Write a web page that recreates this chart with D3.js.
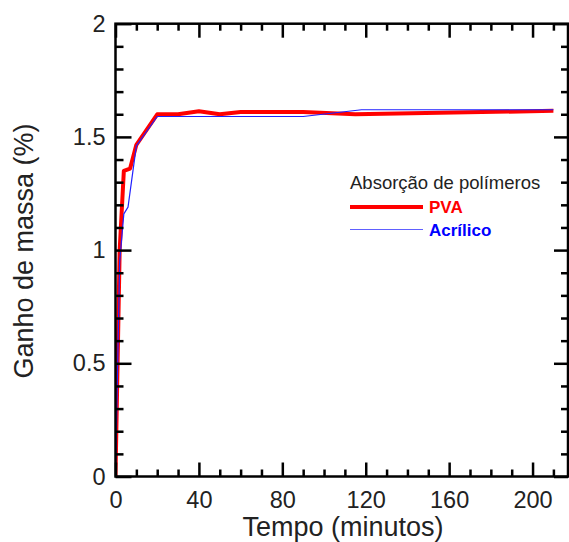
<!DOCTYPE html>
<html>
<head>
<meta charset="utf-8">
<script src="https://cdn.jsdelivr.net/npm/d3@7"></script>
<style>
  body { margin: 0; background: #fff; }
  text { font-family: "Liberation Sans", Arial, sans-serif; }
</style>
</head>
<body>
<svg id="chart" width="569" height="542"></svg>
<script>
// time (minutes) and mass gain (%)
var pvaTime = [0, 2, 4, 7, 10, 20, 30, 40, 50, 60, 90, 115, 210];
var pvaGain = [0, 1.0, 1.35, 1.36, 1.465, 1.60, 1.60, 1.613, 1.60, 1.61, 1.61, 1.60, 1.615];

var acrTime = [0, 2, 4, 6, 10, 20, 90, 118, 210];
var acrGain = [0, 0.95, 1.16, 1.19, 1.46, 1.59, 1.59, 1.62, 1.62];

var xMajor = [0, 40, 80, 120, 160, 200];
var yMajor = [0, 0.5, 1, 1.5, 2];

var plotL = 115.5, plotR = 568, plotT = 23.7, plotB = 476.5;

var svg = d3.select("#chart");

var x = d3.scaleLinear().domain([0, 217]).range([plotL, plotR]);
var y = d3.scaleLinear().domain([0, 2]).range([plotB, plotT]);

var xMinor = d3.range(0, 218, 10).filter(function (d) { return d % 40 != 0; });
var yMinor = d3.range(0, 21).map(function (d) { return d / 10; }).filter(function (d) { return Math.round(d * 10) % 5 != 0; });

svg.append("clipPath").attr("id", "plot")
    .append("rect").attr("x", plotL).attr("y", plotT).attr("width", plotR - plotL).attr("height", plotB - plotT);

var line = d3.line()
    .x(function (d) { return x(d[0]); })
    .y(function (d) { return y(d[1]); });

var pva = pvaTime.map(function (t, i) { return [t, pvaGain[i]]; });
var acr = acrTime.map(function (t, i) { return [t, acrGain[i]]; });

var lines = svg.append("g").attr("clip-path", "url(#plot)");
lines.append("path").datum(pva)
    .attr("d", line).attr("fill", "none")
    .attr("stroke", "#ff0000").attr("stroke-width", 4).attr("stroke-linejoin", "round");
lines.append("path").datum(acr)
    .attr("d", line).attr("fill", "none")
    .attr("stroke", "#2020ff").attr("stroke-width", 1.2).attr("stroke-linejoin", "round");

var styleAxis = function (g) {
    g.select(".domain").remove();
    g.selectAll(".tick line").attr("stroke", "#000").attr("stroke-width", 2.5);
    g.selectAll(".tick text").attr("font-size", 23.5).attr("fill", "#222")
        .attr("font-family", "Liberation Sans, Arial, sans-serif");
};

var fmt = function (d) { return String(d); };

// bottom
svg.append("g").attr("transform", "translate(0," + plotB + ")")
    .call(d3.axisBottom(x).tickValues(xMajor).tickSize(-14).tickPadding(15).tickFormat(fmt))
    .call(styleAxis);
svg.append("g").attr("transform", "translate(0," + plotB + ")")
    .call(d3.axisBottom(x).tickValues(xMinor).tickSize(-7).tickFormat(""))
    .call(styleAxis);
// top
svg.append("g").attr("transform", "translate(0," + plotT + ")")
    .call(d3.axisTop(x).tickValues(xMajor).tickSize(-14).tickFormat(""))
    .call(styleAxis);
svg.append("g").attr("transform", "translate(0," + plotT + ")")
    .call(d3.axisTop(x).tickValues(xMinor).tickSize(-7).tickFormat(""))
    .call(styleAxis);
// left
svg.append("g").attr("transform", "translate(" + plotL + ",0)")
    .call(d3.axisLeft(y).tickValues(yMajor).tickSize(-16).tickPadding(10).tickFormat(fmt))
    .call(styleAxis);
svg.append("g").attr("transform", "translate(" + plotL + ",0)")
    .call(d3.axisLeft(y).tickValues(yMinor).tickSize(-8).tickFormat(""))
    .call(styleAxis);
// right
svg.append("g").attr("transform", "translate(" + plotR + ",0)")
    .call(d3.axisRight(y).tickValues(yMajor).tickSize(-14).tickFormat(""))
    .call(styleAxis);
svg.append("g").attr("transform", "translate(" + plotR + ",0)")
    .call(d3.axisRight(y).tickValues(yMinor).tickSize(-7).tickFormat(""))
    .call(styleAxis);

svg.append("rect")
    .attr("x", plotL).attr("y", plotT)
    .attr("width", plotR - plotL).attr("height", plotB - plotT)
    .attr("fill", "none").attr("stroke", "#000").attr("stroke-width", 2.5);

// axis titles
svg.append("text")
    .attr("x", 343).attr("y", 536)
    .attr("text-anchor", "middle").attr("font-size", 27).attr("fill", "#222")
    .text("Tempo (minutos)");
svg.append("text")
    .attr("transform", "translate(33,251) rotate(-90)")
    .attr("text-anchor", "middle").attr("font-size", 27).attr("fill", "#222")
    .text("Ganho de massa (%)");

// legend
var legend = svg.append("g");
legend.append("text").attr("x", 350).attr("y", 189)
    .attr("font-size", 18.5).attr("fill", "#222")
    .text("Absorção de polímeros");
legend.append("line").attr("x1", 350).attr("x2", 423).attr("y1", 207).attr("y2", 207)
    .attr("stroke", "#ff0000").attr("stroke-width", 4);
legend.append("text").attr("x", 429).attr("y", 213)
    .attr("font-size", 17).attr("font-weight", "bold").attr("fill", "#ff0000")
    .text("PVA");
legend.append("line").attr("x1", 350).attr("x2", 423).attr("y1", 229.5).attr("y2", 229.5)
    .attr("stroke", "#6060ff").attr("stroke-width", 1.2);
legend.append("text").attr("x", 429).attr("y", 235.5)
    .attr("font-size", 17).attr("font-weight", "bold").attr("fill", "#0000ff")
    .text("Acrílico");
</script>
</body>
</html>
